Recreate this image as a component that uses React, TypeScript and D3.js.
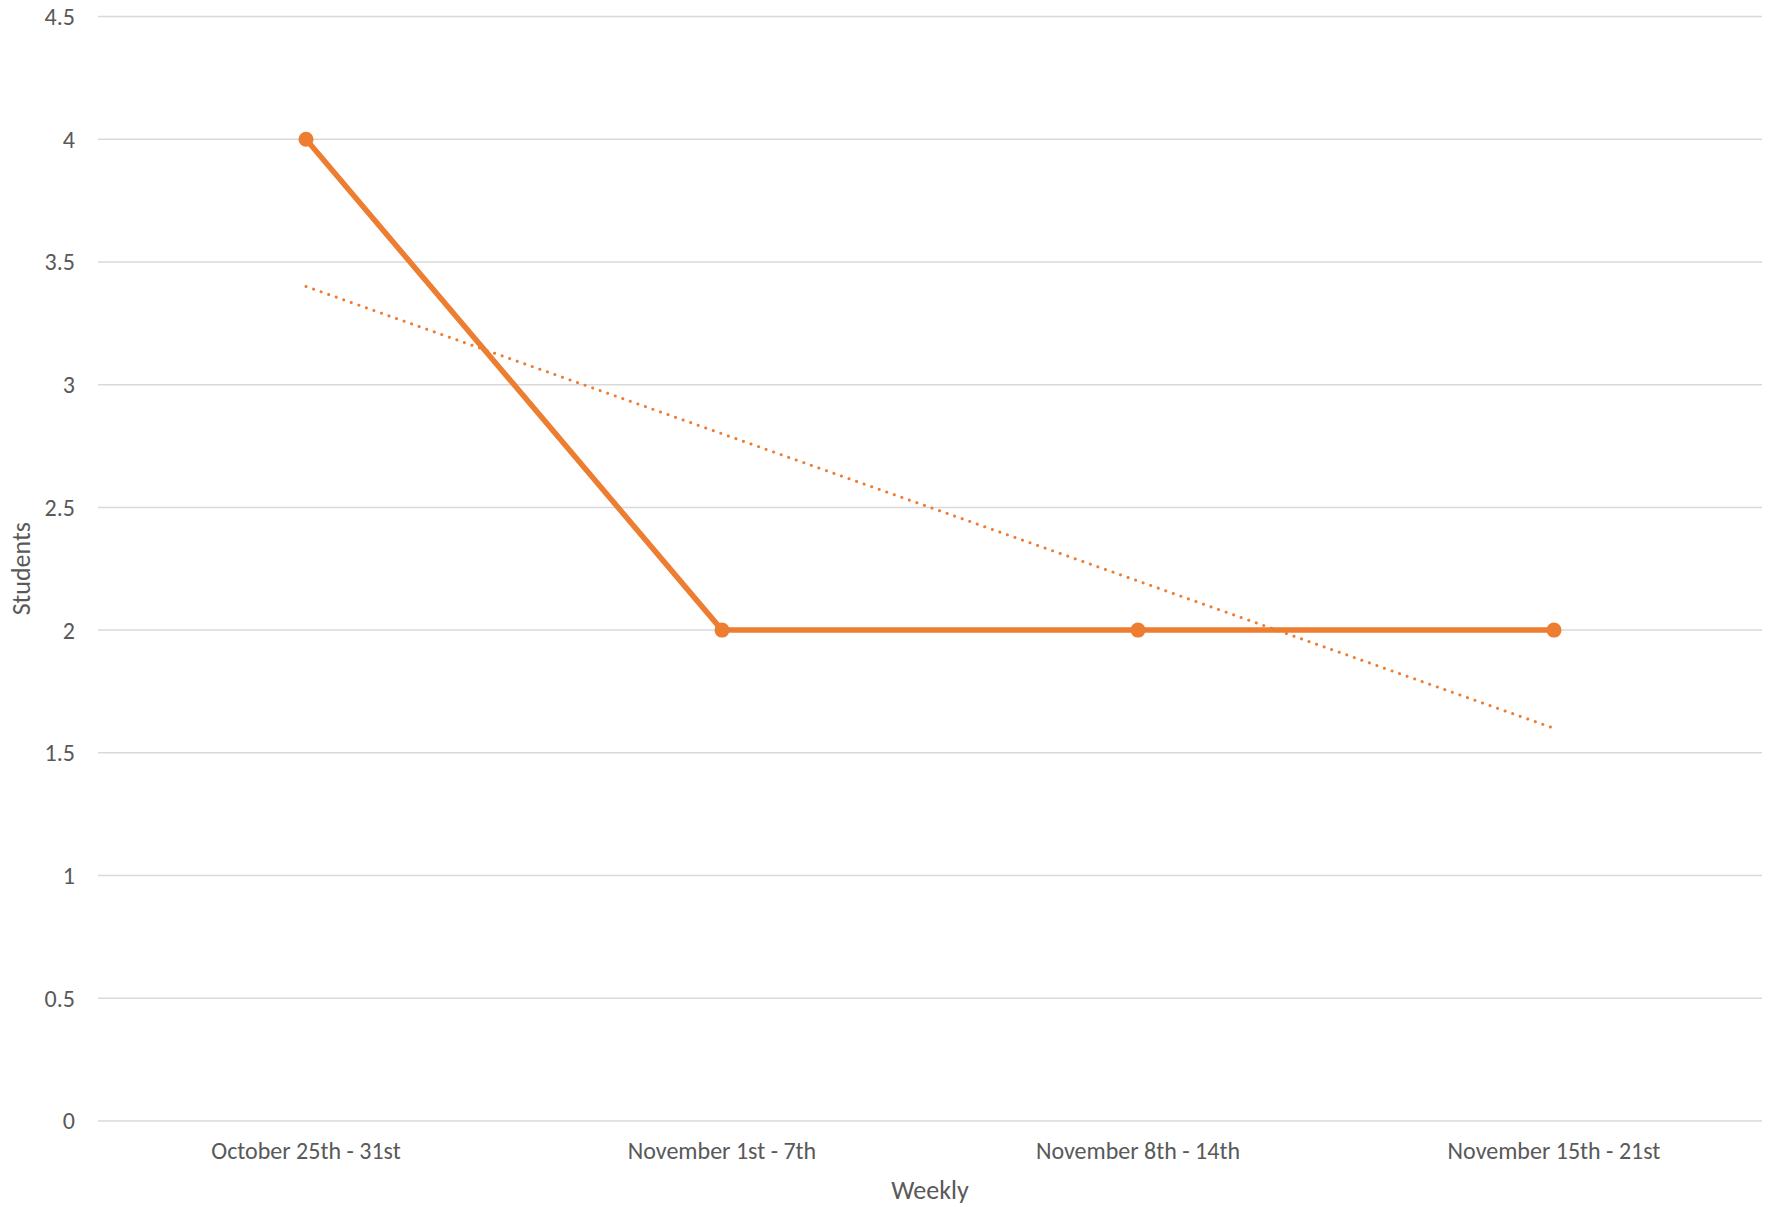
import React from "react";
import * as d3 from "d3";

const categories = ["October 25th - 31st", "November 1st - 7th", "November 8th - 14th", "November 15th - 21st"];
const students = [4, 2, 2, 2];
const yTicks = [0, 0.5, 1, 1.5, 2, 2.5, 3, 3.5, 4, 4.5];
const xTitle = "Weekly";
const yTitle = "Students";

const W = 1769, H = 1207;
const M = { left: 98, right: 1762, top: 16.5, bottom: 1121 };
const ORANGE = "#ED7D31";
const TEXT = "#595959";
const FONT = "Carlito, Calibri, 'Open Sans', 'Noto Sans', sans-serif";

export default function App() {
  const x = d3.scaleBand<string>().domain(categories).range([M.left, M.right]);
  const y = d3.scaleLinear().domain([0, 4.5]).range([M.bottom, M.top]);
  const cx = (c: string) => (x(c) as number) + x.bandwidth() / 2;

  const pts = categories.map((c, i) => [cx(c), y(students[i])] as [number, number]);
  const line = d3.line()(pts) as string;

  // linear trendline (least squares) over index 1..n
  const n = students.length;
  const xs = students.map((_, i) => i + 1);
  const mx = d3.mean(xs) as number;
  const my = d3.mean(students) as number;
  const slope = d3.sum(xs.map((v, i) => (v - mx) * (students[i] - my))) / d3.sum(xs.map(v => (v - mx) ** 2));
  const icpt = my - slope * mx;
  const t0 = icpt + slope * 1;
  const t1 = icpt + slope * n;

  return (
    <svg width={W} height={H} style={{ position: "absolute", left: 0, top: 0 }} fontFamily={FONT}>
      <rect width={W} height={H} fill="#fff" />
      {yTicks.map(t => (
        <g key={t}>
          <line x1={M.left} x2={M.right} y1={y(t)} y2={y(t)} stroke="#d9d9d9" strokeWidth={1.5} />
          <text x={75} y={y(t)} dy="0.35em" textAnchor="end" fontSize={24} fill={TEXT}>{t}</text>
        </g>
      ))}
      {categories.map(c => (
        <text key={c} x={cx(c)} y={1159} textAnchor="middle" fontSize={24} fill={TEXT}>{c}</text>
      ))}
      <text x={930} y={1199} textAnchor="middle" fontSize={26} fill={TEXT}>{xTitle}</text>
      <text transform={`translate(30,${y(2.25)}) rotate(-90)`} textAnchor="middle" fontSize={26} fill={TEXT}>{yTitle}</text>
      <line x1={cx(categories[0])} y1={y(t0)} x2={cx(categories[n - 1])} y2={y(t1)}
        stroke={ORANGE} strokeWidth={3} strokeDasharray="0.1 7.9" strokeLinecap="round" />
      <path d={line} fill="none" stroke={ORANGE} strokeWidth={5.5} strokeLinejoin="round" />
      {pts.map((p, i) => (
        <circle key={i} cx={p[0]} cy={p[1]} r={7.5} fill={ORANGE} />
      ))}
    </svg>
  );
}
